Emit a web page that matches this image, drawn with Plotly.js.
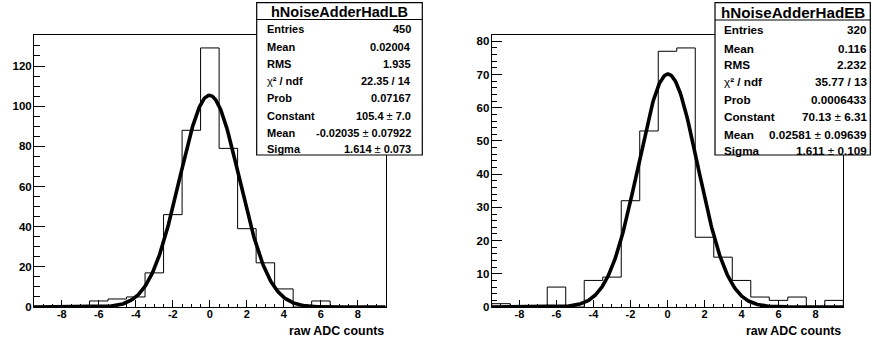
<!DOCTYPE html>
<html>
<head>
<meta charset="utf-8">
<script src="https://cdn.plot.ly/plotly-3.0.1.min.js"></script>
<style>html,body{margin:0;padding:0;background:#fff;}#chart{width:871px;height:345px;}</style>
</head>
<body>
<div id="chart"></div>
<script>
// ---- data ----
const binCenters = [-9,-8,-7,-6,-5,-4,-3,-2,-1,0,1,2,3,4,5,6,7,8,9];
const countsLB = [0,0,0,3,4,5,17,46,88,129,79,39,22,9,0,3,0,0,0];
const countsEB = [1,0,0,6,0,8,9,32,53,77,78,21,15,8,3,2,3,0,2];
const fitParamsLB = [105.4, -0.02035, 1.614];   // constant, mean, sigma
const fitParamsEB = [70.13, 0.02581, 1.611];
const xTickVals = [-8,-6,-4,-2,0,2,4,6,8];
const xTickText = ['-8','-6','-4','-2','0','2','4','6','8'];
const yTickValsLB = [0,20,40,60,80,100,120];
const yTickValsEB = [0,10,20,30,40,50,60,70,80];
const statTitles = ['hNoiseAdderHadLB','hNoiseAdderHadEB'];
const statLabels = ['Entries','Mean','RMS','χ<b>² / ndf</b>','Prob','Constant','Mean','Sigma'];
const statValuesLB = ['450','0.02004','1.935','22.35 / 14','0.07167','105.4 ± 7.0','-0.02035 ± 0.07922','1.614 ± 0.073'];
const statValuesEB = ['320','0.116','2.232','35.77 / 13','0.0006433','70.13 ± 6.31','0.02581 ± 0.09639','1.611 ± 0.109'];
const xTitle = 'raw ADC counts';

// ---- helpers ----
const W = 871, H = 345;
const px = x => x / W;
const py = y => 1 - y / H;
const binWidth = 1;
const bold = s => '<b>' + s + '</b>';

function stepTrace(counts, xa, ya) {
  const xs = [], ys = [];
  const lo = binCenters[0] - binWidth / 2;
  xs.push(lo); ys.push(0);
  for (let i = 0; i < binCenters.length; i++) {
    const e0 = binCenters[i] - binWidth / 2, e1 = binCenters[i] + binWidth / 2;
    xs.push(e0, e1); ys.push(counts[i], counts[i]);
  }
  xs.push(binCenters[binCenters.length - 1] + binWidth / 2); ys.push(0);
  return {x: xs, y: ys, xaxis: xa, yaxis: ya, mode: 'lines', type: 'scatter',
          line: {color: '#000', width: 1, shape: 'linear'}, hoverinfo: 'skip', showlegend: false};
}
function fitTrace(p, xa, ya) {
  const xs = [], ys = [];
  const lo = binCenters[0] - binWidth / 2, hi = binCenters[binCenters.length - 1] + binWidth / 2;
  const n = 500;
  for (let i = 0; i <= n; i++) {
    const x = lo + (hi - lo) * i / n;
    xs.push(x); ys.push(p[0] * Math.exp(-0.5 * Math.pow((x - p[1]) / p[2], 2)));
  }
  return {x: xs, y: ys, xaxis: xa, yaxis: ya, mode: 'lines', type: 'scatter',
          line: {color: '#000', width: 3.6}, hoverinfo: 'skip', showlegend: false};
}

const FONT = 'Liberation Sans, Arial, Helvetica, sans-serif';
const frameL = {x0: 34, x1: 385.7};
const frameR = {x0: 491.7, x1: 843.3};
const frameY = {top: 35, bottom: 307};
const yDomain = [py(frameY.bottom), py(frameY.top)];

function xAxis(fr, anchor) {
  return {domain: [px(fr.x0), px(fr.x1)], anchor: anchor, range: [-9.5, 9.5],
    tickmode: 'array', tickvals: xTickVals, ticktext: xTickText.map(bold),
    ticks: 'inside', ticklen: 7, tickwidth: 1, tickcolor: '#000',
    minor: {dtick: 0.5, tick0: 0, ticks: 'inside', ticklen: 3.5, tickwidth: 1, tickcolor: '#000'},
    showline: true, mirror: true, linecolor: '#000', linewidth: 1,
    showgrid: false, zeroline: false, ticklabelstandoff: -3,
    tickfont: {family: FONT, size: 11, color: '#000'}, fixedrange: true};
}
function yAxis(anchor, ymax, tickvals, minorDtick) {
  return {domain: yDomain, anchor: anchor, range: [0, ymax],
    tickmode: 'array', tickvals: tickvals, ticktext: tickvals.map(v => bold(String(v))),
    ticks: 'inside', ticklen: 10.5, tickwidth: 1, tickcolor: '#000',
    minor: {dtick: minorDtick, tick0: 0, ticks: 'inside', ticklen: 5.5, tickwidth: 1, tickcolor: '#000'},
    showline: true, mirror: true, linecolor: '#000', linewidth: 1,
    showgrid: false, zeroline: false, ticklabelstandoff: -1,
    tickfont: {family: FONT, size: 11.5, color: '#000'}, fixedrange: true};
}

const ymaxLB = 1.05 * Math.max(...countsLB);
const ymaxEB = 1.05 * Math.max(...countsEB);

const shapes = [], annotations = [];
function statBox(b, title, values, titleSize, rowSize) {
  shapes.push({type: 'rect', xref: 'paper', yref: 'paper', layer: 'above',
    x0: px(b.x0), x1: px(b.x1), y0: py(b.y1), y1: py(b.y0),
    fillcolor: '#fff', line: {color: '#000', width: 1.2}});
  shapes.push({type: 'line', xref: 'paper', yref: 'paper', layer: 'above',
    x0: px(b.x0), x1: px(b.x1), y0: py(b.sep), y1: py(b.sep), line: {color: '#000', width: 1.2}});
  annotations.push({xref: 'paper', yref: 'paper', x: px((b.x0 + b.x1) / 2), y: py(b.titleY),
    xanchor: 'center', yanchor: 'middle', showarrow: false, text: bold(title),
    font: {family: FONT, size: titleSize, color: '#000'}});
  for (let i = 0; i < statLabels.length; i++) {
    const yy = py(b.rows[i]);
    annotations.push({xref: 'paper', yref: 'paper', x: px(b.x0 + b.padL), y: yy,
      xanchor: 'left', yanchor: 'middle', showarrow: false,
      text: statLabels[i].indexOf('<b>') >= 0 ? statLabels[i] : bold(statLabels[i]),
      font: {family: FONT, size: rowSize, color: '#000'}});
    const v = values[i].split(' ± ');
    const vt = v.length === 2 ? bold(v[0]) + ' ± ' + bold(v[1]) : bold(values[i]);
    annotations.push({xref: 'paper', yref: 'paper', x: px(b.x1 - b.padR), y: yy,
      xanchor: 'right', yanchor: 'middle', showarrow: false, text: vt,
      font: {family: FONT, size: rowSize, color: '#000'}});
  }
}
const rowsL = [29.3, 46.7, 64.3, 81.3, 98.3, 115.7, 132.7, 149.3];
const rowsR = [30, 48.3, 64.5, 81.7, 99, 116.3, 134.3, 150.7];
statBox({x0: 256.7, x1: 422.3, y0: 2.7, y1: 155, sep: 19.5, titleY: 12, rows: rowsL, padL: 8, padR: 9.5},
        statTitles[0], statValuesLB, 14.5, 11);
statBox({x0: 715, x1: 870.3, y0: 2.7, y1: 155, sep: 20, titleY: 12, rows: rowsR, padL: 6.5, padR: 1.5},
        statTitles[1], statValuesEB, 15.2, 11.7);

annotations.push({xref: 'paper', yref: 'paper', x: px(frameL.x1), y: py(331), xanchor: 'right', yanchor: 'middle',
  showarrow: false, text: bold(xTitle), font: {family: FONT, size: 12.4, color: '#000'}});
annotations.push({xref: 'paper', yref: 'paper', x: px(frameR.x1), y: py(331), xanchor: 'right', yanchor: 'middle',
  showarrow: false, text: bold(xTitle), font: {family: FONT, size: 12.4, color: '#000'}});

const data = [
  stepTrace(countsLB, 'x', 'y'), fitTrace(fitParamsLB, 'x', 'y'),
  stepTrace(countsEB, 'x2', 'y2'), fitTrace(fitParamsEB, 'x2', 'y2')
];
const layout = {
  width: W, height: H, margin: {l: 0, r: 0, t: 0, b: 0},
  paper_bgcolor: '#fff', plot_bgcolor: '#fff', showlegend: false,
  xaxis: xAxis(frameL, 'y'), yaxis: yAxis('x', ymaxLB, yTickValsLB, 5),
  xaxis2: xAxis(frameR, 'y2'), yaxis2: yAxis('x2', ymaxEB, yTickValsEB, 2),
  shapes: shapes, annotations: annotations
};
Plotly.newPlot('chart', data, layout, {staticPlot: true, displayModeBar: false});
</script>
</body>
</html>
